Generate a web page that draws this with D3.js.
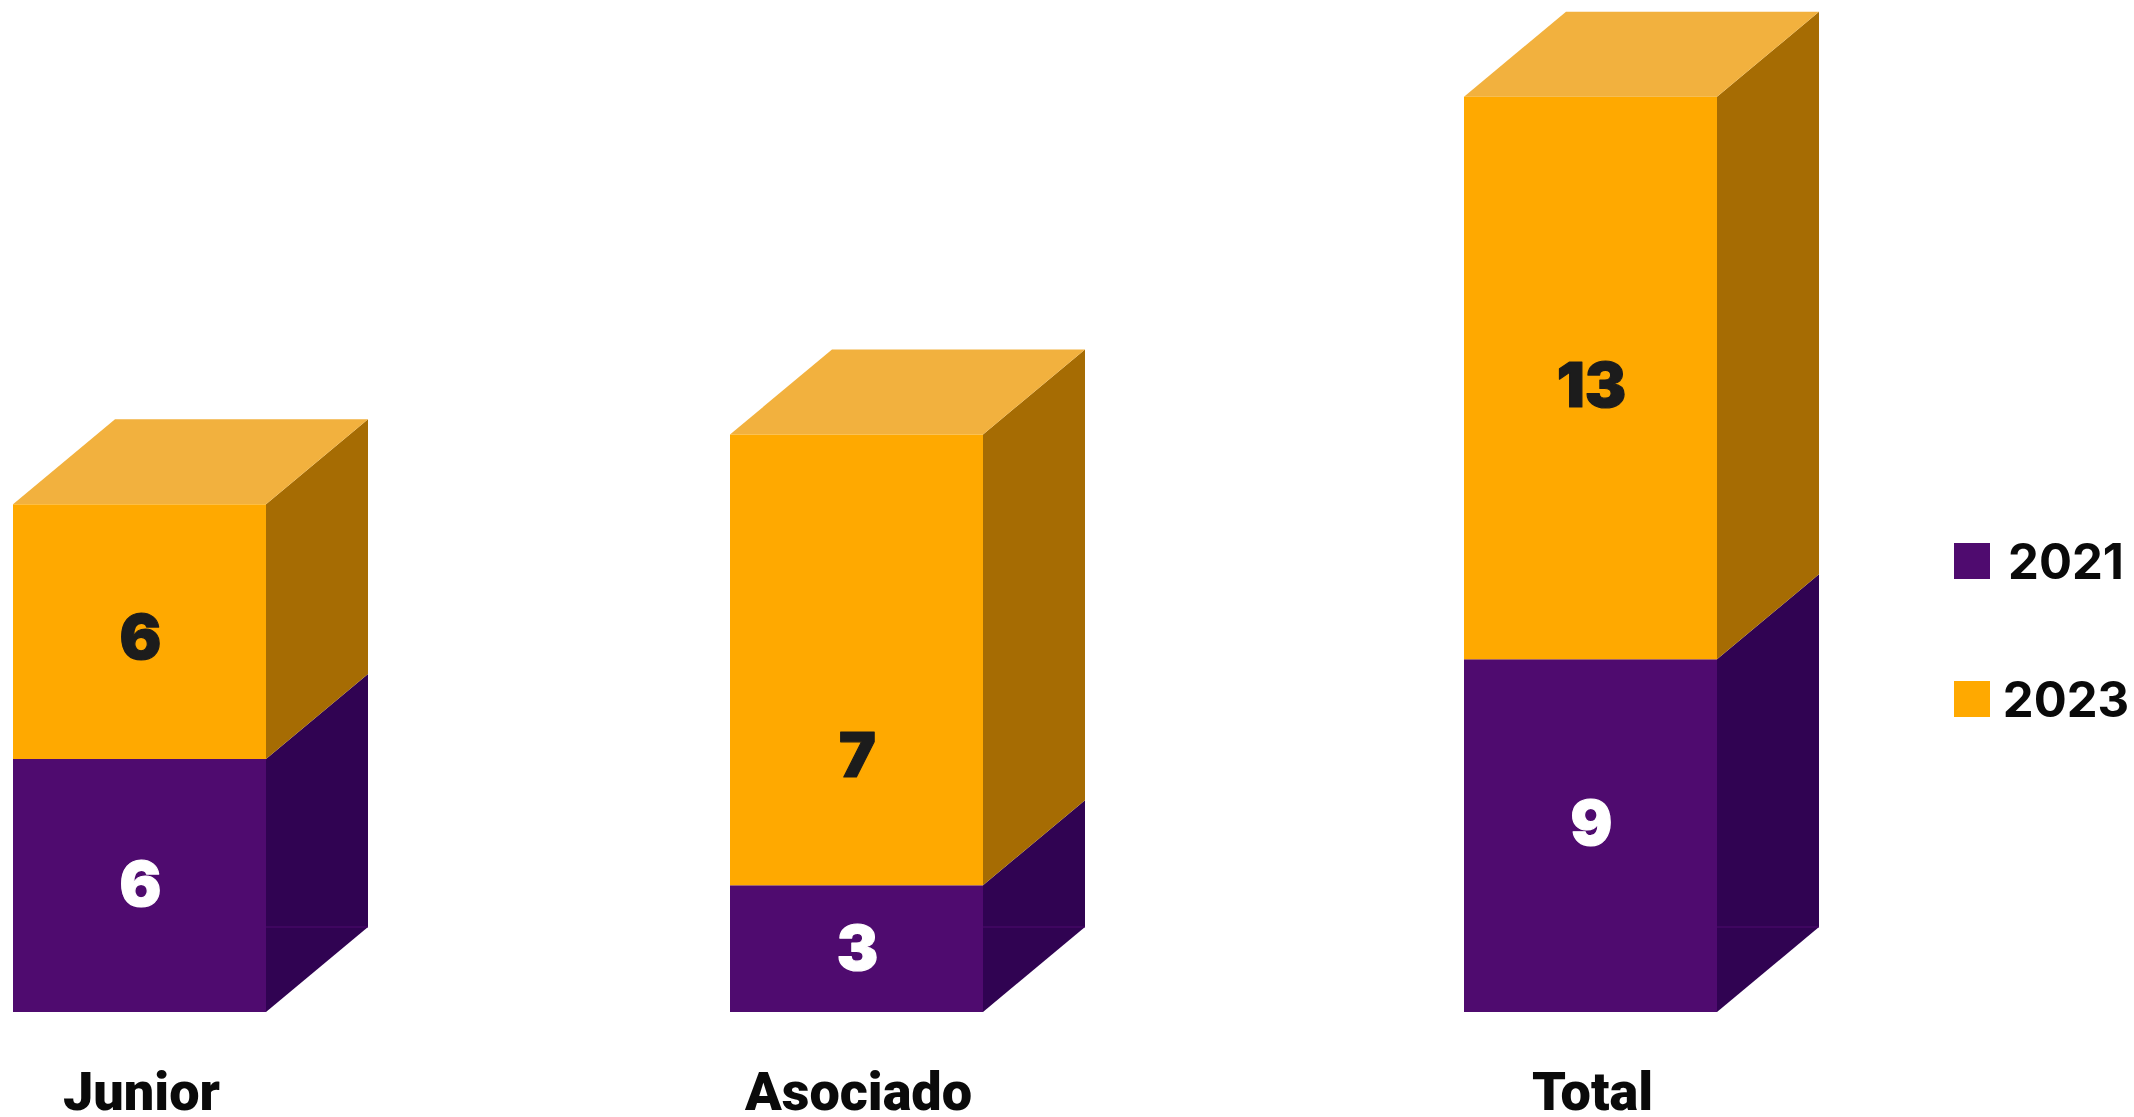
<!DOCTYPE html>
<html>
  <head>
    <meta http-equiv="Content-Type" content="text/html;charset=utf-8"/>
    <style type="text/css">

html, body {
  margin: 0;
  background: #fff;
  overflow: hidden;
}

.cat {
  font: 900 54px Roboto;
  fill: #0a0a0a;
  text-anchor: middle;
}

.val {
  font: 900 62px Inter;
  text-anchor: middle;
  stroke-width: 1.2px;
  stroke-linejoin: round;
}

.legend text {
  font: 700 49px Inter;
  fill: #0a0a0a;
}

    </style>
  </head>
  <body>
    <svg></svg>

    <script src="https://cdnjs.cloudflare.com/ajax/libs/d3/7.8.5/d3.min.js"></script>
    <script type="text/javascript">

var categories = ["Junior", "Asociado", "Total"];
var years = ["2021", "2023"];

// the numbers printed on the bars
var labels2021 = [6, 3, 9];
var labels2023 = [6, 7, 13];

// the source bars are not drawn to scale with their labels,
// so the heights are read off the picture (in units of the labels)
var height2021 = [6.09, 3.05, 8.49];
var height2023 = [6.13, 10.85, 13.54];

var w = 2134, h = 1117;

var svg = d3.select("svg")
    .attr("width", w)
    .attr("height", h);

var x = d3.scaleOrdinal()
    .domain(categories)
    .range([13, 730, 1464]);

var y = d3.scaleLinear()
    .domain([0, 22])
    .range([1012, 98]);

var color = d3.scaleOrdinal()
    .domain(years)
    .range(["#4f0b6f", "#ffa900"]);

var sideColor = d3.scaleOrdinal()
    .domain(years)
    .range(["#300352", "#a66c03"]);

var barW = 253, dx = 102, dy = 85;

var stacks = categories.map(function (c, i) {
  return [
    {cat: c, year: "2021", y0: 0, y1: height2021[i], label: labels2021[i]},
    {cat: c, year: "2023", y0: height2021[i], y1: height2021[i] + height2023[i], label: labels2023[i]}
  ];
});
var segs = [].concat(...stacks);

// Returns a polygon string from a list of points.
function poly(pts) {
  return pts.map(p => p.join(",")).join(" ");
}

var bars = svg.append("g").attr("class", "bars");

// side faces
bars.selectAll(".side")
    .data(segs)
  .enter().append("polygon")
    .attr("class", "side")
    .attr("fill", d => sideColor(d.year))
    .attr("points", function (d) {
      var r = x(d.cat) + barW;
      return poly([[r, y(d.y0)], [r + dx, y(d.y0) - dy], [r + dx, y(d.y1) - dy], [r, y(d.y1)]]);
    });

// faint line of the hidden back edge
bars.selectAll(".edge")
    .data(categories)
  .enter().append("line")
    .attr("class", "edge")
    .attr("x1", d => x(d) + barW)
    .attr("x2", d => x(d) + barW + dx)
    .attr("y1", y(0) - dy)
    .attr("y2", y(0) - dy)
    .attr("stroke", "#4f0b6f")
    .attr("stroke-width", 1);

// top faces
bars.selectAll(".top")
    .data(stacks)
  .enter().append("polygon")
    .attr("class", "top")
    .attr("fill", "#f2b13e")
    .attr("points", function (d) {
      var l = x(d[1].cat), t = y(d[1].y1);
      return poly([[l, t], [l + dx, t - dy], [l + barW + dx, t - dy], [l + barW, t]]);
    });

// front faces
bars.selectAll(".front")
    .data(segs)
  .enter().append("rect")
    .attr("class", "front")
    .attr("x", d => x(d.cat))
    .attr("y", d => y(d.y1))
    .attr("width", barW)
    .attr("height", d => y(d.y0) - y(d.y1))
    .attr("fill", d => color(d.year));

// Value labels. Their heights in the source don't follow the segment middles exactly.
var labelY = d3.scaleOrdinal()
    .domain(segs.map(d => d.cat + d.year))
    .range([884, 637, 948, 755, 823, 385]);

svg.append("g").selectAll("text")
    .data(segs)
  .enter().append("text")
    .attr("class", "val")
    .attr("x", d => x(d.cat) + barW / 2 + 1)
    .attr("y", d => labelY(d.cat + d.year))
    .attr("dy", "0.35em")
    .attr("fill", d => d.year === "2021" ? "#fff" : "#1c1c1c")
    .attr("stroke", d => d.year === "2021" ? "#fff" : "#1c1c1c")
    .text(d => d.label);

// category names
svg.append("g").selectAll("text")
    .data(categories)
  .enter().append("text")
    .attr("class", "cat")
    .attr("x", d => x(d) + barW / 2 + 2)
    .attr("y", 1110)
    .text(d => d);

// legend
var legendY = d3.scaleOrdinal()
    .domain(years)
    .range([543, 681]);

var legend = svg.append("g").attr("class", "legend");

legend.selectAll("rect")
    .data(years)
  .enter().append("rect")
    .attr("x", 1954)
    .attr("y", d => legendY(d))
    .attr("width", 36)
    .attr("height", 36)
    .attr("fill", d => color(d));

legend.selectAll("text")
    .data(years)
  .enter().append("text")
    .attr("x", 2066)
    .attr("y", d => legendY(d) + 36)
    .attr("text-anchor", "middle")
    .text(d => d);

    </script>
  </body>
</html>
